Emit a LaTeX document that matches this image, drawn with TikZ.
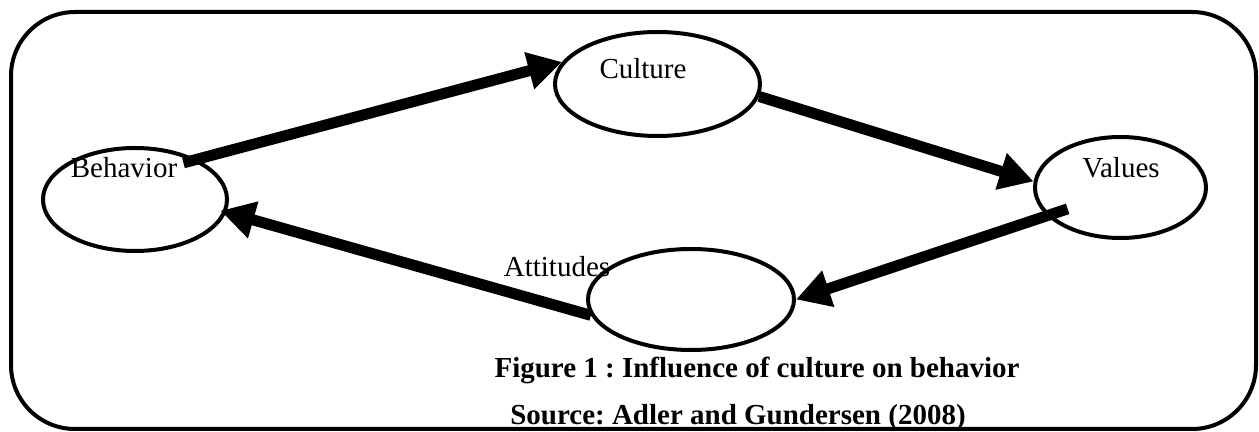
\documentclass[tikz,border=0pt]{standalone}
\usepackage{fontspec}
\setmainfont{Liberation Serif}
\usetikzlibrary{arrows.meta,shapes.geometric}
\frenchspacing

\begin{document}
\begin{tikzpicture}[x=0.5pt,y=-0.5pt,
  ell/.style={ellipse, draw, line width=2pt, inner sep=0pt},
  lbl/.style={anchor=base, inner sep=0pt, font=\fontsize{14.5}{17}\selectfont},
  flow/.style={line width=5.5pt, -{Triangle[length=17pt,width=18pt]}}]
\useasboundingbox (0,0) rectangle (1259,432);
\draw[line width=2pt, rounded corners=32pt] (11,12) rectangle (1256,429);

\node[ell, minimum width=92pt, minimum height=51.5pt] (beh) at (135,199.5){};
\node[ell, minimum width=102.5pt, minimum height=52pt] (cul) at (657.5,84){};
\node[ell, minimum width=85.5pt, minimum height=50.5pt] (val) at (1120.5,187.5){};
\node[ell, minimum width=103pt, minimum height=50.5pt] (att) at (691,299.5){};

\node[lbl] (tbeh) at (124,178){Behavior};
\node[lbl] (tcul) at (643,79){Culture};
\node[lbl] (tval) at (1121,178){Values};
\node[lbl] (tatt) at (557,277){Attitudes};

\draw[flow, shorten <=-7pt](beh.33) -- (cul.167);
\draw[flow](cul.-7) -- (val.176);
\draw[flow, shorten <=-11pt](val.201) -- (att.east);
\draw[flow, shorten >=-3pt](att.189) -- (beh.-8);

\node[lbl, font=\fontsize{14.5}{17}\selectfont\bfseries] (cap) at (757,378){Figure 1 : Influence of culture on behavior};
\node[lbl, font=\fontsize{14.5}{17}\selectfont\bfseries] (src) at (738,425){Source: Adler and Gundersen (2008)};

\end{tikzpicture}
\end{document}
